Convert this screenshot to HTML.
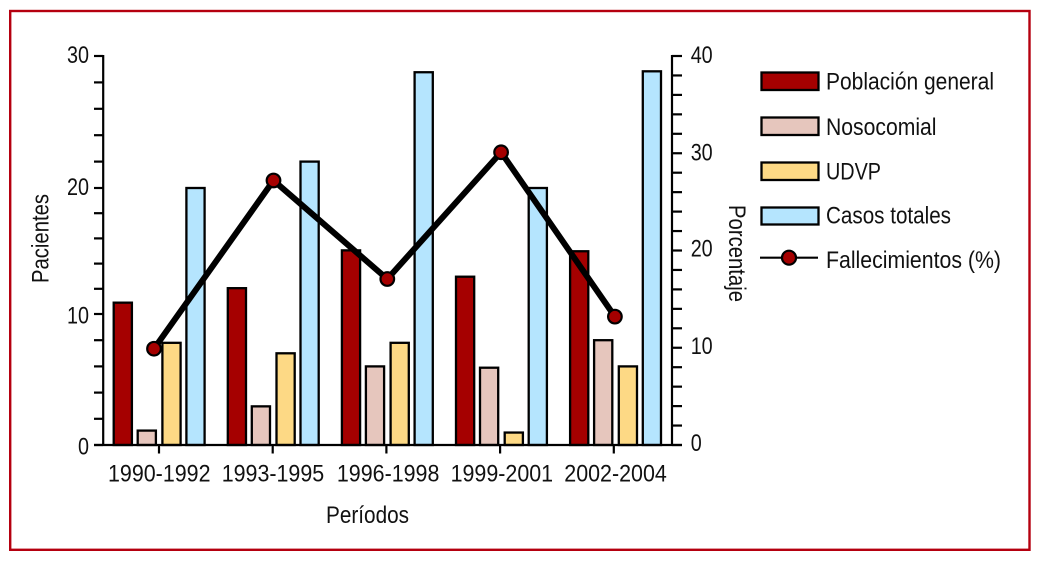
<!DOCTYPE html>
<html lang="es">
<head>
<meta charset="utf-8">
<title>Pacientes y fallecimientos por período</title>
<style>
html,body{margin:0;padding:0;background:#fff;width:1043px;height:564px;overflow:hidden}
svg{display:block}
text{font-family:"Liberation Sans",sans-serif;fill:#111;font-size:24px}
</style>
</head>
<body>
<svg id="chart" width="1043" height="564" viewBox="0 0 1043 564" xmlns="http://www.w3.org/2000/svg">
  <rect x="10.2" y="11" width="1019.3" height="538.8" fill="#fff" stroke="#b5000f" stroke-width="2.4"/>
  <g id="bars"></g>
  <g id="axes"></g>
  <g id="deaths-line"></g>
  <text transform="translate(48.5,283) rotate(-90)" textLength="89" lengthAdjust="spacingAndGlyphs">Pacientes</text>
  <text transform="translate(729,205) rotate(90)" textLength="97" lengthAdjust="spacingAndGlyphs">Porcentaje</text>
  <text x="326" y="523" textLength="83" lengthAdjust="spacingAndGlyphs">Períodos</text>
  <g>
    <g>
      <rect x="761.5" y="72.5" width="57" height="17.5" fill="#a50000" stroke="#000" stroke-width="2.3"/>
      <text x="826" y="89.3" textLength="168" lengthAdjust="spacingAndGlyphs">Población general</text>
    </g>
    <g>
      <rect x="761.5" y="117.5" width="57" height="17.5" fill="#e6c6bd" stroke="#000" stroke-width="2.3"/>
      <text x="826" y="135" textLength="110.5" lengthAdjust="spacingAndGlyphs">Nosocomial</text>
    </g>
    <g>
      <rect x="761.5" y="162.5" width="57" height="17.5" fill="#fdd985" stroke="#000" stroke-width="2.3"/>
      <text x="826" y="179.3" textLength="55" lengthAdjust="spacingAndGlyphs">UDVP</text>
    </g>
    <g>
      <rect x="761.5" y="207.5" width="57" height="17" fill="#b5e5fe" stroke="#000" stroke-width="2.3"/>
      <text x="826" y="223.3" textLength="125" lengthAdjust="spacingAndGlyphs">Casos totales</text>
    </g>
    <g>
      <line x1="760" y1="257.7" x2="818" y2="257.7" stroke="#000" stroke-width="2.2"/>
      <circle cx="789" cy="257.7" r="7" fill="#a50000" stroke="#000" stroke-width="2.2"/>
      <text x="826" y="268" textLength="175" lengthAdjust="spacingAndGlyphs">Fallecimientos (%)</text>
    </g>
  </g>
</svg>
<script>
const periods = ["1990-1992", "1993-1995", "1996-1998", "1999-2001", "2002-2004"];
const poblacionGeneral = [10.9, 12.05, 15.05, 12.96, 14.98];
const nosocomial = [1.1, 2.95, 6.0, 5.9, 8.0];
const udvp = [7.8, 7.0, 7.8, 0.95, 6.0];
const casosTotales = [20, 22, 28.77, 20, 28.84];
const fallecimientos = [9.9, 27.2, 17.07, 30.1, 13.2];
const leftMajorTicks = [0, 10, 20, 30];
const rightMajorTicks = [0, 10, 20, 30, 40];

const NS = "http://www.w3.org/2000/svg";
const BASE_Y = 445;

function leftY(v) {
  if (v <= 10) return 445 - (v / 10) * 131;
  if (v <= 20) return 314 - ((v - 10) / 10) * 126;
  return 188 - ((v - 20) / 10) * 132;
}
function rightY(v) { return 445 - v * 9.725; }
function tickX(i) { return 159 + i * 113.7; }
function groupX(i) { return 113.7 + i * 114.1; }
function pointX(i) { return i === 0 ? 154 : 273.5 + (i - 1) * 113.8; }

function make(tag, attrs, parent) {
  const el = document.createElementNS(NS, tag);
  for (const k in attrs) el.setAttribute(k, attrs[k]);
  parent.appendChild(el);
  return el;
}

const barsG = document.getElementById("bars");
const axesG = document.getElementById("axes");
const lineG = document.getElementById("deaths-line");

function drawSeries(values, offset, fill, label) {
  values.forEach(function (v, i) {
    const y = leftY(v);
    const r = make("rect", { x: groupX(i) + offset, y: y, width: 18.2, height: BASE_Y - y, fill: fill, stroke: "#000", "stroke-width": 2.3 }, barsG);
    
    
  });
}
drawSeries(poblacionGeneral, 0, "#a50000", "poblacion-general");
drawSeries(nosocomial, 24, "#e6c6bd", "nosocomial");
drawSeries(udvp, 48.7, "#fdd985", "udvp");
drawSeries(casosTotales, 72.7, "#b5e5fe", "casos-totales");

function axisLine(x1, y1, x2, y2, name) {
  const l = make("line", { x1: x1, y1: y1, x2: x2, y2: y2, stroke: "#000", "stroke-width": 2.2 }, axesG);
  
  
}
function label(txt, attrs, name) {
  const t = make("text", attrs, axesG);
  t.textContent = txt;
  
  
}

axisLine(103.2, 55, 103.2, 446, "left-axis-line");
axisLine(672, 55, 672, 446, "right-axis-line");
axisLine(94, 445, 682, 445, "x-axis-line");

for (let v = 0; v <= 30; v += 2) {
  axisLine(94, leftY(v), 103, leftY(v), "left-axis-tick");
}
for (let v = 0; v <= 40; v += 2) {
  axisLine(672, rightY(v), 682, rightY(v), "right-axis-tick");
}
leftMajorTicks.forEach(function (v) {
  const dy = v <= 10 ? 9.5 : 7;
  const w = v === 0 ? 11 : 22;
  label(String(v), { x: 89 - w, y: leftY(v) + dy, textLength: w, lengthAdjust: "spacingAndGlyphs" }, "left-axis-label-" + v);
});
rightMajorTicks.forEach(function (v) {
  const dy = v >= 30 ? 7 : 6;
  const w = v === 0 ? 11 : 22;
  label(String(v), { x: 690.7, y: rightY(v) + dy, textLength: w, lengthAdjust: "spacingAndGlyphs" }, "right-axis-label-" + v);
});
periods.forEach(function (p, i) {
  axisLine(tickX(i), 445, tickX(i), 453.5, "x-axis-tick");
  label(p, { x: tickX(i) - 51 + (i > 1 ? 1.5 : 0), y: 481.7, textLength: 102.5, lengthAdjust: "spacingAndGlyphs" }, "x-axis-label-" + p);
});

const linePts = fallecimientos.map(function (v, i) { return pointX(i) + "," + rightY(v); }).join(" ");
const poly = make("polyline", { points: linePts, fill: "none", stroke: "#000", "stroke-width": 6, "stroke-linejoin": "miter" }, lineG);


fallecimientos.forEach(function (v, i) {
  const c = make("circle", { cx: pointX(i), cy: rightY(v), r: 6.8, fill: "#a50000", stroke: "#000", "stroke-width": 2.2 }, lineG);
  
  
});
</script>
</body>
</html>
